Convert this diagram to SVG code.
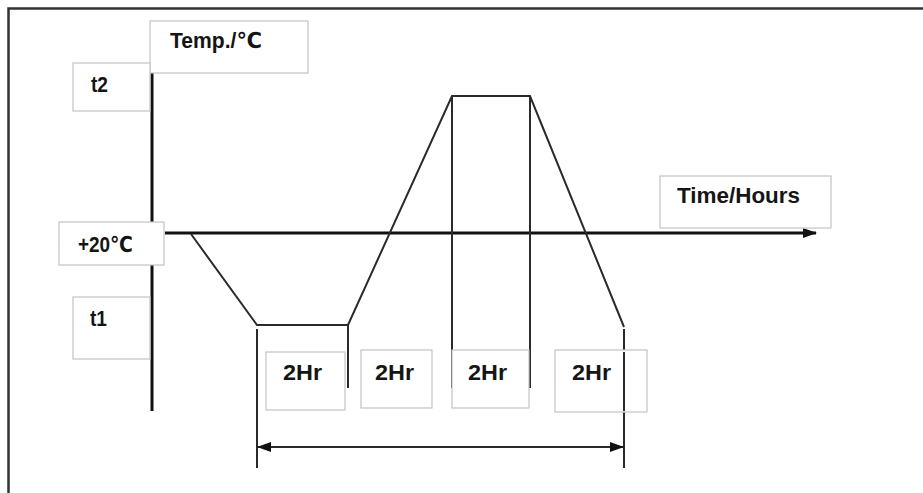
<svg xmlns="http://www.w3.org/2000/svg" width="923" height="493" viewBox="0 0 923 493">
<defs>
<style>
.box{fill:#fff;stroke:#c4c4c4;stroke-width:1.2}
.lbl{font-family:"Liberation Sans","DejaVu Sans",Arial,sans-serif;font-weight:bold;font-size:22px;fill:#151515}
.axis{stroke:#111;stroke-width:3;fill:none}
.ln{stroke:#2a2a2a;stroke-width:2;fill:none}
</style>
<marker id="ah" viewBox="0 0 14 10" refX="13" refY="5" markerWidth="14" markerHeight="10" markerUnits="userSpaceOnUse" orient="auto-start-reverse">
<path d="M0,0 L14,5 L0,10 Z" fill="#111"/>
</marker>
</defs>
<rect width="923" height="493" fill="#fff"/>
<path d="M8.5,500 V8.5 H930" stroke="#333" stroke-width="2.5" fill="none"/>
<g id="connectors">
<line class="axis" x1="152" y1="73" x2="152" y2="411"/>
<line class="axis" x1="165" y1="233" x2="816" y2="233" marker-end="url(#ah)"/>
<polyline class="ln" points="191,234 257,325 348,325 452,96 530,96 624,327"/>
<line class="ln" x1="257" y1="329" x2="257" y2="468"/>
<line class="ln" x1="348" y1="325" x2="348" y2="388"/>
<line class="ln" x1="452" y1="96" x2="452" y2="388"/>
<line class="ln" x1="530" y1="96" x2="530" y2="388"/>
<line class="ln" x1="624" y1="329" x2="624" y2="468"/>
<line class="ln" x1="258" y1="447" x2="623" y2="447" marker-start="url(#ah)" marker-end="url(#ah)"/>
</g>
<g id="temp"><rect class="box" x="150" y="21" width="158" height="52"/><text class="lbl" x="170" y="48" textLength="92" lengthAdjust="spacingAndGlyphs">Temp./℃</text></g>
<g id="t2"><rect class="box" x="73" y="63" width="77" height="48"/><text class="lbl" x="91" y="92" textLength="17" lengthAdjust="spacingAndGlyphs">t2</text></g>
<g id="plus20"><rect class="box" x="59" y="222" width="105" height="43"/><text class="lbl" x="78" y="252" textLength="55" lengthAdjust="spacingAndGlyphs">+20℃</text></g>
<g id="t1"><rect class="box" x="73" y="297" width="77" height="62"/><text class="lbl" x="90" y="326" textLength="17" lengthAdjust="spacingAndGlyphs">t1</text></g>
<g id="time"><rect class="box" x="660" y="176" width="171" height="52"/><text class="lbl" x="677" y="203" textLength="123" lengthAdjust="spacingAndGlyphs">Time/Hours</text></g>
<g id="hr1"><rect class="box" x="266" y="352" width="79" height="58"/><text class="lbl" x="283" y="380" textLength="39" lengthAdjust="spacingAndGlyphs">2Hr</text></g>
<g id="hr2"><rect class="box" x="361" y="350" width="71" height="58"/><text class="lbl" x="375" y="380" textLength="39" lengthAdjust="spacingAndGlyphs">2Hr</text></g>
<g id="hr3"><rect class="box" x="452" y="350" width="77" height="58"/><text class="lbl" x="468" y="380" textLength="39" lengthAdjust="spacingAndGlyphs">2Hr</text></g>
<g id="hr4"><rect class="box" x="555" y="350" width="92" height="62"/><text class="lbl" x="572" y="380" textLength="39" lengthAdjust="spacingAndGlyphs">2Hr</text></g>
<line x1="624" y1="352" x2="624" y2="411" stroke="#2a2a2a" stroke-width="2"/>
</svg>
